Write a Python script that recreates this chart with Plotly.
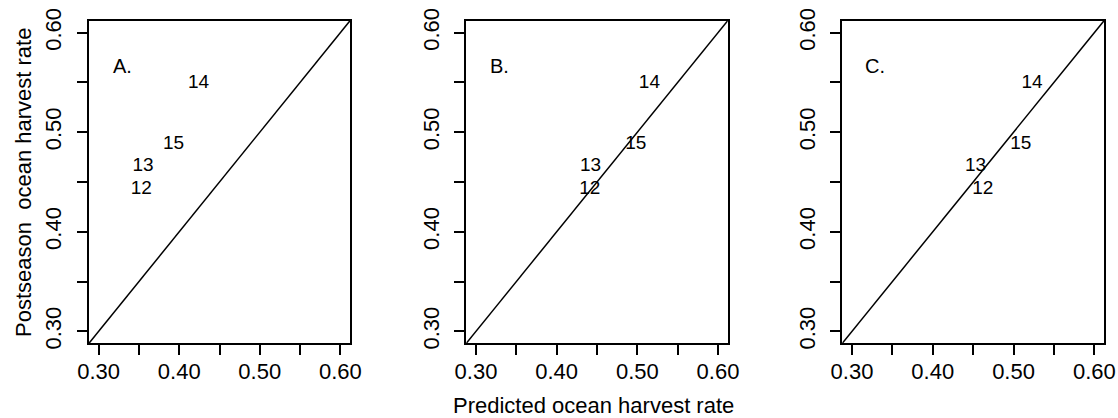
import plotly.graph_objects as go

# Data
years = ["12", "13", "14", "15"]
postseason = [0.443, 0.466, 0.549, 0.488]
pred_A = [0.353, 0.355, 0.424, 0.393]
pred_B = [0.441, 0.442, 0.515, 0.498]
pred_C = [0.462, 0.453, 0.523, 0.509]
panel_labels = ["A.", "B.", "C."]
tick_vals = [0.30, 0.35, 0.40, 0.45, 0.50, 0.55, 0.60]
tick_text = ["0.30", "", "0.40", "", "0.50", "", "0.60"]
lim = [0.3, 0.6]

pad = (lim[1] - lim[0]) * 0.04
rng = [lim[0] - pad, lim[1] + pad]

FONT = "Liberation Sans, Arial, Helvetica, sans-serif"

W, H = 1118, 418


def px_x(X):
    return X / W


def px_y(Y):
    return 1 - Y / H


fig = go.Figure()
preds = [pred_A, pred_B, pred_C]
xdomains = [[px_x(89), px_x(350)], [px_x(466.3), px_x(727.7)], [px_x(842.3), px_x(1104)]]
ydomain = [px_y(343.3), px_y(20.7)]

for i, (pred, lab) in enumerate(zip(preds, panel_labels)):
    n = "" if i == 0 else str(i + 1)
    xa, ya = "x" + n, "y" + n
    fig.add_trace(go.Scatter(x=rng, y=rng, mode="lines", xaxis=xa, yaxis=ya,
                             line=dict(color="black", width=1.5), showlegend=False,
                             hoverinfo="skip"))
    fig.add_trace(go.Scatter(x=pred, y=postseason, mode="text", text=years,
                             textposition="middle center", xaxis=xa, yaxis=ya,
                             textfont=dict(family=FONT, size=19, color="black"),
                             showlegend=False))
    fig.add_annotation(x=0.329, y=0.567, xref=xa, yref=ya, text=lab, showarrow=False,
                       xanchor="center", yanchor="middle",
                       font=dict(family=FONT, size=20, color="black"))
    axis_common = dict(range=rng, showgrid=False, zeroline=False, showline=True,
                       linecolor="black", linewidth=1.8, mirror=True, automargin=False,
                       ticks="outside", ticklen=10, tickwidth=1.5, tickcolor="black",
                       tickvals=tick_vals, ticktext=tick_text, ticklabeloverflow="allow",
                       tickfont=dict(family=FONT, size=22, color="black"))
    fig.layout["xaxis" + n] = dict(domain=xdomains[i], anchor=ya, ticklabelstandoff=-3,
                                   **axis_common)
    fig.layout["yaxis" + n] = dict(domain=ydomain, anchor=xa, tickangle=-90,
                                   ticklabelstandoff=7, **axis_common)

fig.add_annotation(x=px_x(593.3), y=px_y(405), xref="paper", yref="paper",
                   xanchor="center", yanchor="middle",
                   text="Predicted ocean harvest rate", showarrow=False,
                   font=dict(family=FONT, size=22, color="black"))
fig.add_annotation(x=px_x(23), y=px_y(183), xref="paper", yref="paper",
                   xanchor="center", yanchor="middle",
                   text="Postseason  ocean harvest rate", showarrow=False, textangle=-90,
                   font=dict(family=FONT, size=22, color="black"))

fig.update_layout(width=W, height=H, margin=dict(l=0, r=0, t=0, b=0),
                  template="none", paper_bgcolor="white", plot_bgcolor="white")
fig.write_html("out.html", config={"displayModeBar": False},
               post_script="document.body.style.margin='0';document.body.style.overflow='hidden';")
